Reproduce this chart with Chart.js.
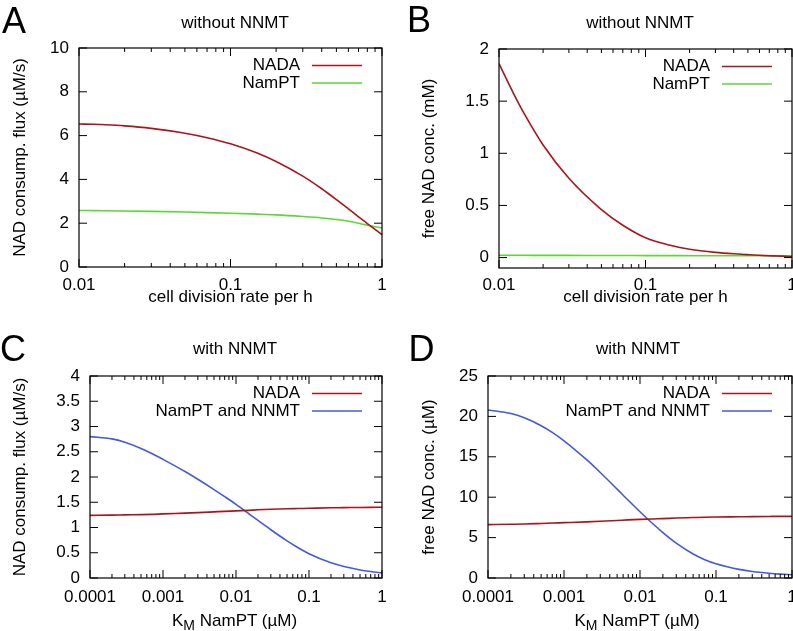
<!DOCTYPE html>
<html>
<head>
<meta charset="utf-8">
<script src="https://cdn.jsdelivr.net/npm/chart.js@4.4.0/dist/chart.umd.min.js"></script>
<style>
  body { margin: 0; width: 793px; height: 631px; background: #fff; position: relative; overflow: hidden; font-family: 'Liberation Sans', Arial, sans-serif; color: #000; }
  canvas { position: absolute; }
  .letter { position: absolute; font-size: 36px; line-height: 36px; }
  .ptitle { position: absolute; width: 200px; text-align: center; font-size: 17px; line-height: 17px; }
  .xtitle { position: absolute; font-size: 17px; line-height: 17px; white-space: nowrap; }
  .xtitle span { font-size: 14px; line-height: 0; position: relative; top: 4px; }
</style>
</head>
<body>
<canvas id="panelA" width="396" height="315" style="left:0;top:0"></canvas>
<canvas id="panelB" width="397" height="315" style="left:396px;top:0"></canvas>
<canvas id="panelC" width="396" height="316" style="left:0;top:315px"></canvas>
<canvas id="panelD" width="397" height="316" style="left:396px;top:315px"></canvas>

<div class="letter" style="left:2px;top:2.5px">A</div>
<div class="letter" style="left:407px;top:1.5px">B</div>
<div class="letter" style="left:0px;top:330.5px">C</div>
<div class="letter" style="left:408.5px;top:331px">D</div>

<div class="ptitle" style="left:135px;top:14px">without NNMT</div>
<div class="ptitle" style="left:540px;top:14px">without NNMT</div>
<div class="ptitle" style="left:135px;top:340px">with NNMT</div>
<div class="ptitle" style="left:538px;top:340px">with NNMT</div>

<div class="xtitle" style="left:172px;top:612px">K<span>M</span> NamPT (µM)</div>
<div class="xtitle" style="left:574.5px;top:612px">K<span>M</span> NamPT (µM)</div>

<script>
// cell division rate per h (panels A, B)
const rateX = [0.01, 0.0125, 0.015, 0.02, 0.03, 0.05, 0.07, 0.1, 0.15, 0.2, 0.3, 0.4, 0.5, 0.6, 0.7, 0.8, 0.9, 1];
const fluxNadaA   = [6.53, 6.515, 6.496, 6.446, 6.331, 6.109, 5.905, 5.626, 5.203, 4.816, 4.147, 3.572, 3.077, 2.654, 2.292, 1.985, 1.714, 1.472];
const fluxNamptA  = [2.58, 2.575, 2.57, 2.56, 2.54, 2.51, 2.485, 2.455, 2.415, 2.38, 2.305, 2.24, 2.17, 2.09, 2.0, 1.91, 1.84, 1.79];
const concNadaB   = [1.86, 1.58, 1.37, 1.08, 0.76, 0.46, 0.31, 0.19, 0.115, 0.08, 0.05, 0.036, 0.028, 0.022, 0.018, 0.015, 0.012, 0.01];
const concNamptB  = [0.022, 0.022, 0.022, 0.021, 0.021, 0.02, 0.02, 0.019, 0.019, 0.018, 0.018, 0.017, 0.017, 0.017, 0.016, 0.016, 0.016, 0.015];

// K_M NamPT in uM (panels C, D)
const kmX = [1e-4, 2e-4, 3e-4, 5e-4, 7e-4, 1e-3, 2e-3, 3e-3, 5e-3, 7e-3, 0.01, 0.015, 0.02, 0.03, 0.05, 0.07, 0.1, 0.2, 0.3, 0.5, 0.7, 1];
const fluxNadaC   = [1.24, 1.245, 1.25, 1.255, 1.26, 1.27, 1.285, 1.295, 1.31, 1.32, 1.33, 1.34, 1.35, 1.36, 1.37, 1.375, 1.38, 1.39, 1.393, 1.397, 1.399, 1.4];
const fluxNnmtC   = [2.8, 2.755, 2.688, 2.566, 2.467, 2.349, 2.108, 1.955, 1.751, 1.611, 1.458, 1.272, 1.14, 0.955, 0.735, 0.605, 0.48, 0.3, 0.226, 0.16, 0.128, 0.1];
const concNadaD   = [6.6, 6.65, 6.68, 6.75, 6.8, 6.85, 6.95, 7.02, 7.12, 7.19, 7.25, 7.31, 7.35, 7.42, 7.48, 7.52, 7.55, 7.58, 7.6, 7.62, 7.63, 7.63];
const concNnmtD   = [20.8, 20.35, 19.82, 18.84, 18.02, 16.98, 14.61, 13.06, 11.0, 9.62, 8.2, 6.65, 5.63, 4.32, 2.97, 2.3, 1.76, 1.07, 0.8, 0.58, 0.48, 0.4];

// tick labels
const xTicksRate = [0.01, 0.1, 1];
const xTicksKm = [0.0001, 0.001, 0.01, 0.1, 1];
const yTicksA = [0, 2, 4, 6, 8, 10];
const yTicksB = [0, 0.5, 1, 1.5, 2];
const yTicksC = [0, 0.5, 1, 1.5, 2, 2.5, 3, 3.5, 4];
const yTicksD = [0, 5, 10, 15, 20, 25];

const RED = '#a8161b';
const GREEN = '#5ad833';
const BLUE = '#4659d6';
const textFont = { family: 'Liberation Sans', size: 17 };

// gnuplot style: full border, inward ticks on all sides, key at top right
const gnuplotFrame = {
    id: 'gnuplotFrame',
    afterDatasetsDraw(chart) {
        const { ctx, chartArea: a, scales: { x, y } } = chart;
        ctx.save();
        ctx.strokeStyle = '#000';
        ctx.lineWidth = 1;
        ctx.beginPath();
        y.ticks.forEach(t => {
            const py = y.getPixelForValue(t.value);
            ctx.moveTo(a.left, py); ctx.lineTo(a.left + 8, py);
            ctx.moveTo(a.right, py); ctx.lineTo(a.right - 8, py);
        });
        x.ticks.forEach(t => {
            const px = x.getPixelForValue(t.value);
            ctx.moveTo(px, a.bottom); ctx.lineTo(px, a.bottom - 8);
            ctx.moveTo(px, a.top); ctx.lineTo(px, a.top + 8);
        });
        for (let d = x.min; d < x.max * 0.999; d *= 10) {
            for (let k = 2; k < 10; k++) {
                const px = x.getPixelForValue(d * k);
                ctx.moveTo(px, a.bottom); ctx.lineTo(px, a.bottom - 4);
                ctx.moveTo(px, a.top); ctx.lineTo(px, a.top + 4);
            }
        }
        ctx.stroke();
        ctx.lineWidth = 1.2;
        ctx.strokeRect(a.left, a.top, a.right - a.left, a.bottom - a.top);

        ctx.font = '17px "Liberation Sans"';
        ctx.textAlign = 'right';
        ctx.textBaseline = 'middle';
        ctx.fillStyle = '#000';
        chart.data.datasets.forEach((ds, i) => {
            const ky = a.top + 17.5 + i * 17.5;
            ctx.fillText(ds.label, a.right - 82, ky);
            ctx.strokeStyle = ds.borderColor;
            ctx.lineWidth = ds.borderWidth;
            ctx.beginPath();
            ctx.moveTo(a.right - 70, ky);
            ctx.lineTo(a.right - 20, ky);
            ctx.stroke();
        });
        ctx.restore();
    }
};

function createPanel(canvasId, cfg) {
    const ctx = document.getElementById(canvasId).getContext('2d');
    return new Chart(ctx, {
        type: 'line',
        data: {
            datasets: cfg.series.map(s => ({
                label: s.label,
                data: cfg.x.map((xv, i) => ({ x: xv, y: s.y[i] })),
                borderColor: s.color,
                borderWidth: 1.6,
                pointRadius: 0,
                cubicInterpolationMode: 'monotone',
                fill: false
            }))
        },
        options: {
            responsive: false,
            animation: false,
            events: [],
            layout: { padding: cfg.padding },
            plugins: {
                legend: { display: false },
                tooltip: { enabled: false },
                title: { display: false }
            },
            scales: {
                x: {
                    type: 'logarithmic',
                    min: cfg.xTicks[0],
                    max: cfg.xTicks[cfg.xTicks.length - 1],
                    afterBuildTicks: s => { s.ticks = cfg.xTicks.map(v => ({ value: v })); },
                    afterFit: s => { s.height = cfg.xHeight; s.paddingLeft = 0; s.paddingRight = 0; },
                    grid: { display: false, drawTicks: false },
                    border: { display: false },
                    ticks: { font: textFont, color: '#000', padding: cfg.xTickPad, maxRotation: 0, autoSkip: false, callback: v => String(v) },
                    title: { display: !!cfg.xTitle, text: cfg.xTitle || '', font: textFont, color: '#000', padding: { top: 0, bottom: cfg.xTitlePad || 0 } }
                },
                y: {
                    type: 'linear',
                    min: cfg.yMin,
                    max: cfg.yMax,
                    afterBuildTicks: s => { s.ticks = cfg.yTicks.map(v => ({ value: v })); },
                    afterFit: s => { s.width = cfg.yWidth; s.paddingTop = 0; s.paddingBottom = 0; },
                    grid: { display: false, drawTicks: false },
                    border: { display: false },
                    ticks: { font: textFont, color: '#000', padding: 10, autoSkip: false, callback: v => String(v) },
                    title: { display: true, text: cfg.yTitle, font: textFont, color: '#000', padding: { top: cfg.yTitlePad, bottom: 0 } }
                }
            }
        },
        plugins: [gnuplotFrame]
    });
}

createPanel('panelA', {
    x: rateX, xTicks: xTicksRate, yTicks: yTicksA, yMin: 0, yMax: 10,
    series: [
        { label: 'NADA', y: fluxNadaA, color: RED },
        { label: 'NamPT', y: fluxNamptA, color: GREEN }
    ],
    padding: { top: 48, right: 14, left: 0, bottom: 0 },
    yWidth: 79, xHeight: 48, xTickPad: 8,
    yTitle: 'NAD consump. flux (µM/s)', yTitlePad: 10.6,
    xTitle: 'cell division rate per h', xTitlePad: 7.7
});

createPanel('panelB', {
    x: rateX, xTicks: xTicksRate, yTicks: yTicksB, yMin: -0.1, yMax: 2,
    series: [
        { label: 'NADA', y: concNadaB, color: RED },
        { label: 'NamPT', y: concNamptB, color: GREEN }
    ],
    padding: { top: 49, right: 1, left: 0, bottom: 0 },
    yWidth: 103, xHeight: 47, xTickPad: 7.6,
    yTitle: 'free NAD conc. (mM)', yTitlePad: 23.6,
    xTitle: 'cell division rate per h', xTitlePad: 7.7
});

createPanel('panelC', {
    x: kmX, xTicks: xTicksKm, yTicks: yTicksC, yMin: 0, yMax: 4,
    series: [
        { label: 'NADA', y: fluxNadaC, color: RED },
        { label: 'NamPT and NNMT', y: fluxNnmtC, color: BLUE }
    ],
    padding: { top: 61, right: 14, left: 0, bottom: 0 },
    yWidth: 90, xHeight: 53, xTickPad: 9.3,
    yTitle: 'NAD consump. flux (µM/s)', yTitlePad: 9.9
});

createPanel('panelD', {
    x: kmX, xTicks: xTicksKm, yTicks: yTicksD, yMin: 0, yMax: 25,
    series: [
        { label: 'NADA', y: concNadaD, color: RED },
        { label: 'NamPT and NNMT', y: concNnmtD, color: BLUE }
    ],
    padding: { top: 61, right: 1, left: 0, bottom: 0 },
    yWidth: 92, xHeight: 53, xTickPad: 9.3,
    yTitle: 'free NAD conc. (µM)', yTitlePad: 23.6
});
</script>
</body>
</html>
